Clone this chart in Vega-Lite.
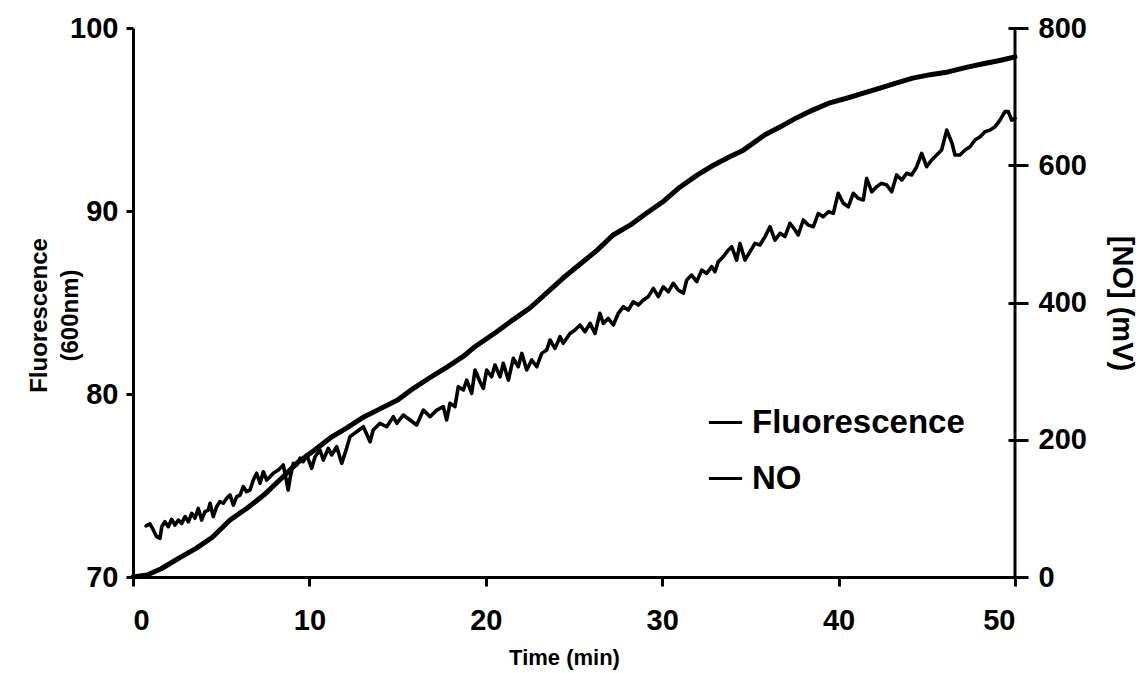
{
  "$schema": "https://vega.github.io/schema/vega-lite/v6.json",
  "autosize": {"type": "none"},
  "padding": {"left": 133, "top": 28, "right": 133, "bottom": 96},
  "width": 882,
  "height": 549,
  "background": "white",
  "datasets": {
    "fluor": [
      {"t":0.74,"F":72.79},{"t":0.96,"F":72.90},{"t":1.15,"F":72.57},{"t":1.34,"F":72.20},{"t":1.53,"F":72.11},{"t":1.63,"F":72.75},{"t":1.81,"F":73.02},{"t":2.00,"F":72.75},{"t":2.19,"F":73.15},{"t":2.38,"F":72.84},{"t":2.57,"F":73.11},{"t":2.76,"F":72.93},{"t":2.95,"F":73.30},{"t":3.14,"F":73.02},{"t":3.33,"F":73.48},{"t":3.51,"F":73.21},{"t":3.70,"F":73.75},{"t":3.89,"F":73.11},{"t":4.08,"F":73.57},{"t":4.27,"F":73.66},{"t":4.37,"F":74.03},{"t":4.55,"F":73.30},{"t":4.74,"F":73.84},{"t":4.93,"F":74.12},{"t":5.12,"F":74.03},{"t":5.31,"F":74.30},{"t":5.50,"F":74.48},{"t":5.69,"F":73.93},{"t":5.88,"F":74.39},{"t":6.07,"F":74.48},{"t":6.25,"F":74.94},{"t":6.44,"F":74.66},{"t":6.63,"F":74.75},{"t":6.82,"F":75.30},{"t":7.01,"F":75.67},{"t":7.20,"F":75.12},{"t":7.39,"F":75.75},{"t":7.58,"F":75.30},{"t":7.77,"F":75.48},{"t":7.95,"F":75.67},{"t":8.24,"F":75.85},{"t":8.52,"F":76.12},{"t":8.80,"F":74.75},{"t":8.90,"F":75.39},{"t":9.09,"F":76.21},{"t":9.28,"F":76.12},{"t":9.47,"F":76.49},{"t":9.65,"F":76.30},{"t":9.85,"F":76.67},{"t":10.13,"F":75.94},{"t":10.32,"F":76.57},{"t":10.60,"F":76.94},{"t":10.79,"F":76.39},{"t":11.07,"F":77.03},{"t":11.26,"F":76.67},{"t":11.55,"F":77.12},{"t":11.83,"F":76.21},{"t":12.11,"F":77.03},{"t":12.30,"F":77.67},{"t":12.68,"F":77.94},{"t":13.06,"F":78.21},{"t":13.44,"F":77.39},{"t":13.62,"F":78.03},{"t":14.00,"F":78.40},{"t":14.38,"F":78.21},{"t":14.76,"F":78.76},{"t":14.95,"F":78.40},{"t":15.32,"F":78.85},{"t":15.70,"F":78.58},{"t":16.08,"F":78.31},{"t":16.46,"F":79.12},{"t":16.84,"F":78.76},{"t":17.22,"F":79.12},{"t":17.59,"F":79.31},{"t":17.78,"F":78.58},{"t":17.97,"F":79.49},{"t":18.25,"F":79.31},{"t":18.44,"F":80.40},{"t":18.73,"F":80.22},{"t":18.92,"F":80.76},{"t":19.20,"F":80.04},{"t":19.39,"F":81.31},{"t":19.67,"F":80.67},{"t":19.86,"F":80.31},{"t":20.05,"F":81.31},{"t":20.33,"F":80.94},{"t":20.52,"F":81.58},{"t":20.81,"F":80.94},{"t":20.99,"F":81.68},{"t":21.28,"F":80.76},{"t":21.56,"F":81.95},{"t":21.84,"F":81.49},{"t":22.04,"F":82.22},{"t":22.32,"F":81.31},{"t":22.60,"F":81.86},{"t":22.89,"F":81.49},{"t":23.17,"F":82.22},{"t":23.45,"F":82.40},{"t":23.64,"F":82.95},{"t":23.92,"F":82.49},{"t":24.21,"F":83.13},{"t":24.39,"F":82.77},{"t":24.77,"F":83.31},{"t":25.06,"F":83.50},{"t":25.34,"F":83.77},{"t":25.62,"F":83.40},{"t":25.91,"F":83.86},{"t":26.19,"F":83.31},{"t":26.47,"F":84.41},{"t":26.66,"F":83.86},{"t":26.94,"F":84.13},{"t":27.23,"F":83.77},{"t":27.51,"F":84.41},{"t":27.80,"F":84.77},{"t":28.08,"F":84.59},{"t":28.36,"F":85.04},{"t":28.65,"F":84.86},{"t":28.93,"F":85.14},{"t":29.21,"F":85.32},{"t":29.50,"F":85.77},{"t":29.78,"F":85.32},{"t":30.06,"F":85.86},{"t":30.35,"F":85.59},{"t":30.63,"F":86.05},{"t":30.91,"F":85.68},{"t":31.20,"F":85.50},{"t":31.39,"F":86.23},{"t":31.67,"F":86.50},{"t":31.96,"F":86.14},{"t":32.24,"F":86.77},{"t":32.52,"F":86.59},{"t":32.81,"F":86.96},{"t":32.99,"F":86.68},{"t":33.18,"F":87.23},{"t":33.46,"F":87.50},{"t":33.75,"F":87.87},{"t":33.94,"F":88.05},{"t":34.22,"F":87.32},{"t":34.41,"F":88.23},{"t":34.69,"F":87.32},{"t":34.98,"F":87.78},{"t":35.26,"F":88.23},{"t":35.54,"F":88.14},{"t":35.83,"F":88.60},{"t":36.11,"F":89.14},{"t":36.39,"F":88.41},{"t":36.68,"F":88.78},{"t":36.96,"F":88.60},{"t":37.24,"F":89.33},{"t":37.53,"F":88.96},{"t":37.71,"F":88.69},{"t":38.00,"F":89.51},{"t":38.28,"F":89.23},{"t":38.57,"F":89.14},{"t":38.85,"F":89.87},{"t":39.13,"F":89.69},{"t":39.42,"F":89.96},{"t":39.70,"F":89.87},{"t":39.98,"F":90.97},{"t":40.27,"F":90.42},{"t":40.55,"F":90.23},{"t":40.83,"F":90.97},{"t":41.12,"F":90.69},{"t":41.40,"F":90.60},{"t":41.59,"F":91.78},{"t":41.88,"F":91.05},{"t":42.16,"F":91.33},{"t":42.44,"F":91.51},{"t":42.73,"F":91.42},{"t":43.01,"F":91.05},{"t":43.29,"F":91.97},{"t":43.58,"F":91.69},{"t":43.86,"F":92.06},{"t":44.14,"F":91.97},{"t":44.43,"F":92.42},{"t":44.71,"F":93.15},{"t":44.99,"F":92.42},{"t":45.28,"F":92.79},{"t":45.56,"F":93.06},{"t":45.84,"F":93.33},{"t":46.13,"F":94.42},{"t":46.43,"F":93.70},{"t":46.60,"F":93.06},{"t":46.88,"F":93.06},{"t":47.17,"F":93.33},{"t":47.45,"F":93.51},{"t":47.73,"F":93.88},{"t":48.02,"F":94.06},{"t":48.30,"F":94.33},{"t":48.58,"F":94.42},{"t":48.87,"F":94.61},{"t":49.15,"F":94.97},{"t":49.43,"F":95.43},{"t":49.62,"F":95.43},{"t":49.81,"F":94.97},{"t":50.00,"F":95.06}
    ],
    "no": [
      {"t":0,"NO":0},{"t":0.8,"NO":3},{"t":1.6,"NO":12},{"t":2.7,"NO":29},{"t":3.6,"NO":42},{"t":4.5,"NO":58},{"t":5.5,"NO":83},{"t":6.5,"NO":101},{"t":7.4,"NO":119},{"t":8.3,"NO":141},{"t":9.3,"NO":166},{"t":10.3,"NO":185},{"t":11.2,"NO":203},{"t":12.1,"NO":217},{"t":13.0,"NO":232},{"t":14.0,"NO":245},{"t":15.0,"NO":258},{"t":15.9,"NO":275},{"t":16.8,"NO":290},{"t":17.8,"NO":306},{"t":18.7,"NO":321},{"t":19.3,"NO":334},{"t":20.6,"NO":357},{"t":21.5,"NO":374},{"t":22.5,"NO":392},{"t":23.5,"NO":415},{"t":24.4,"NO":436},{"t":25.3,"NO":455},{"t":26.3,"NO":476},{"t":27.2,"NO":498},{"t":28.2,"NO":513},{"t":29.1,"NO":530},{"t":30.0,"NO":546},{"t":31.0,"NO":568},{"t":32.0,"NO":586},{"t":32.9,"NO":600},{"t":33.8,"NO":612},{"t":34.6,"NO":622},{"t":35.8,"NO":644},{"t":36.7,"NO":656},{"t":37.6,"NO":669},{"t":38.5,"NO":680},{"t":39.5,"NO":691},{"t":40.5,"NO":698},{"t":41.4,"NO":705},{"t":42.3,"NO":712},{"t":43.3,"NO":720},{"t":44.2,"NO":727},{"t":45.2,"NO":732},{"t":46.2,"NO":736},{"t":47.3,"NO":743},{"t":48.2,"NO":748},{"t":49.2,"NO":753},{"t":50,"NO":758}
    ]
  },
  "layer": [
    {
      "data": {"name": "fluor"},
      "mark": {"type": "line", "strokeWidth": 3.6, "strokeJoin": "round", "strokeCap": "round"},
      "encoding": {
        "x": {"field": "t", "type": "quantitative", "scale": {"domain": [0, 50], "nice": false},
          "axis": {"values": [0,10,20,30,40,50], "tickSize": 9, "labelPadding": 20, "title": "Time (min)", "titleFontSize": 22, "titleX": 431, "titleY": 87, "titleBaseline": "alphabetic", "titleAnchor": "middle", "titleAlign": "center"}},
        "y": {"field": "F", "type": "quantitative", "scale": {"domain": [70, 100], "nice": false, "zero": false},
          "axis": {"orient": "left", "values": [70,80,90,100], "tickSize": 7, "labelPadding": 8, "title": ["Fluorescence", "(600nm)"], "titleFontSize": 24, "titleAngle": -90, "titleX": -94, "titleY": 287, "titleAlign": "center", "titleBaseline": "middle", "titleLineHeight": 31}},
        "color": {"datum": "Fluorescence", "type": "nominal",
          "scale": {"domain": ["Fluorescence", "NO"], "range": ["#000000", "#000000"]},
          "legend": {"title": null, "orient": "none", "legendX": 574, "legendY": 376, "padding": 0, "symbolType": "stroke", "symbolSize": 1100, "symbolStrokeWidth": 3, "labelFont": "Liberation Sans", "labelFontSize": 33, "labelFontWeight": "bold", "labelColor": "black", "labelOffset": 8, "labelLimit": 0, "rowPadding": 20}}
      }
    },
    {
      "data": {"name": "no"},
      "mark": {"type": "line", "strokeWidth": 5, "strokeJoin": "round", "strokeCap": "round"},
      "encoding": {
        "x": {"field": "t", "type": "quantitative"},
        "y": {"field": "NO", "type": "quantitative", "scale": {"domain": [0, 800], "nice": false},
          "axis": {"orient": "right", "values": [0,200,400,600,800], "offset": -7, "domain": false, "tickSize": 20, "labelPadding": 10, "title": "[NO] (mV)", "titleFontSize": 29, "titleAngle": 90, "titleX": 113, "titleY": 275, "titleAlign": "center", "titleBaseline": "middle"}},
        "color": {"datum": "NO", "type": "nominal"}
      }
    },
    {
      "data": {"values": [{}]},
      "mark": {"type": "rule", "color": "black", "strokeWidth": 3},
      "encoding": {"x": {"datum": 50, "type": "quantitative"}}
    }
  ],
  "resolve": {"scale": {"y": "independent"}},
  "config": {
    "view": {"stroke": null},
    "axis": {
      "grid": false,
      "domainColor": "black",
      "domainWidth": 3,
      "tickColor": "black",
      "tickWidth": 3,
      "labelColor": "black",
      "labelFont": "Liberation Sans",
      "labelFontSize": 29,
      "labelFontWeight": "bold",
      "titleColor": "black",
      "titleFont": "Liberation Sans",
      "titleFontWeight": "bold"
    }
  }
}
